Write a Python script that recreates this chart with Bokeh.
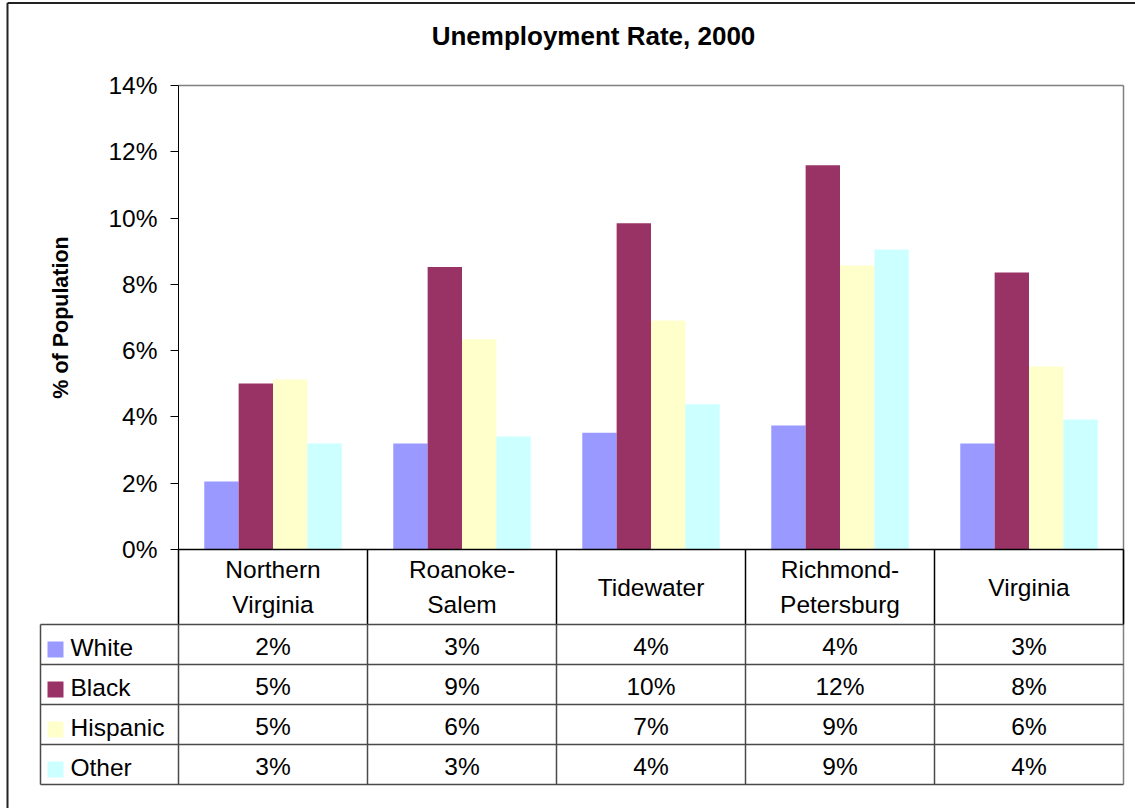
import numpy as np
from bokeh.plotting import figure
from bokeh.models import Range1d, LinearAxis, FixedTicker, NumeralTickFormatter, ColumnDataSource
from bokeh.transform import dodge
from bokeh.core.properties import value
from bokeh.embed import file_html
from bokeh.resources import INLINE

# ---------------- data ----------------
title = "Unemployment Rate, 2000"
y_label = "% of Population"
categories = ["Northern Virginia", "Roanoke-Salem", "Tidewater", "Richmond-Petersburg", "Virginia"]
category_labels = ["Northern\nVirginia", "Roanoke-\nSalem", "Tidewater", "Richmond-\nPetersburg", "Virginia"]
series = ["White", "Black", "Hispanic", "Other"]
white = [0.0205, 0.0320, 0.0352, 0.0374, 0.0320]
black = [0.0501, 0.0852, 0.0984, 0.1159, 0.0836]
hispanic = [0.0513, 0.0634, 0.0691, 0.0857, 0.0552]
other = [0.0320, 0.0341, 0.0438, 0.0905, 0.0392]
y_ticks = [0.0, 0.02, 0.04, 0.06, 0.08, 0.10, 0.12, 0.14]

# ---------------- styles ----------------
colors = ["#9999FF", "#993366", "#FFFFCC", "#CCFFFF"]
FONT = value("Liberation Sans")
FS = "24.5px"
GRAY = "#808080"
DARK = "#4a4a4a"

# ---------------- layout (pixel positions in page) ----------------
W, H = 1135, 808
PL, PR, PT, P0 = 178, 1123, 85, 549     # plot frame left/right/top/zero line
HEAD_BOTTOM = 624                        # bottom of category header row
ROW_H = 40
LEG_LEFT = 40
BORDER_X, BORDER_Y = 7, 2.5
n_cat = len(categories)
CAT_W = (PR - PL) / n_cat
YMAX = y_ticks[-1]


def X(px):
    return (px - PL) / CAT_W


def Y(py):
    return (P0 - py) * YMAX / (P0 - PT)


p = figure(width=W, height=H,
           x_range=Range1d(X(0), X(W)),
           y_range=Range1d(Y(H), Y(0)),
           x_axis_type=None, y_axis_type=None,
           output_backend="svg", toolbar_location=None, min_border=0)
p.outline_line_color = None
p.background_fill_color = "white"
p.border_fill_color = "white"

# ---------------- y axis ----------------
yaxis = LinearAxis(fixed_location=X(PL), bounds=(0, YMAX),
                   ticker=FixedTicker(ticks=y_ticks),
                   formatter=NumeralTickFormatter(format="0%"),
                   axis_label=y_label)
yaxis.axis_line_color = "black"
yaxis.major_tick_line_color = "black"
yaxis.major_tick_out = 8
yaxis.major_tick_in = 0
yaxis.minor_tick_out = 0
yaxis.minor_tick_in = 0
yaxis.major_label_text_font = "Liberation Sans"
yaxis.major_label_text_font_size = FS
yaxis.major_label_text_color = "black"
yaxis.major_label_standoff = 13
yaxis.axis_label_text_font = "Liberation Sans"
yaxis.axis_label_text_font_size = "21.5px"
yaxis.axis_label_text_font_style = "bold"
yaxis.axis_label_text_color = "black"
yaxis.axis_label_standoff = 32
p.add_layout(yaxis, "left")

# ---------------- bars ----------------
src = ColumnDataSource(dict(cx=np.arange(n_cat) + 0.5,
                            White=white, Black=black, Hispanic=hispanic, Other=other))
bw = 1.0 / (len(series) + 1.5)
for j, (name, col) in enumerate(zip(series, colors)):
    off = (j - (len(series) - 1) / 2) * bw
    p.vbar(x=dodge("cx", off), top=name, bottom=0, width=bw, source=src,
           fill_color=col, line_color=None)

# ---------------- frame lines ----------------
TABLE_BOTTOM = HEAD_BOTTOM + ROW_H * len(series)
p.segment(x0=[X(PL)], y0=[Y(PT)], x1=[X(PR)], y1=[Y(PT)], line_color=GRAY, line_width=1.5)
p.segment(x0=[X(PR)], y0=[Y(PT)], x1=[X(PR)], y1=[Y(TABLE_BOTTOM)],
          line_color=GRAY, line_width=1.5)
p.segment(x0=[X(PL)], y0=[0], x1=[X(PR)], y1=[0], line_color="black", line_width=1.5)

# outer chart border (left and top; right/bottom lie outside the picture)
p.segment(x0=[X(BORDER_X)], y0=[Y(BORDER_Y)], x1=[X(BORDER_X)], y1=[Y(H)],
          line_color="#222222", line_width=2)
p.segment(x0=[X(BORDER_X)], y0=[Y(BORDER_Y)], x1=[X(W)], y1=[Y(BORDER_Y)],
          line_color="#222222", line_width=2)

# ---------------- data table ----------------
bounds = np.arange(n_cat + 1)
# header dividers (black)
p.segment(x0=bounds, y0=[Y(P0)] * len(bounds), x1=bounds, y1=[Y(HEAD_BOTTOM)] * len(bounds),
          line_color="black", line_width=1.5)
# body dividers
vx = np.concatenate([[X(LEG_LEFT)], bounds[:-1]])
p.segment(x0=vx, y0=[Y(HEAD_BOTTOM)] * len(vx), x1=vx, y1=[Y(TABLE_BOTTOM)] * len(vx),
          line_color=DARK, line_width=1.5)
hy = [Y(HEAD_BOTTOM + k * ROW_H) for k in range(len(series) + 1)]
p.segment(x0=[X(LEG_LEFT)] * len(hy), y0=hy, x1=[X(PR)] * len(hy), y1=hy,
          line_color=DARK, line_width=1.5)

# category labels in header
p.text(x=np.arange(n_cat) + 0.5, y=[Y((P0 + HEAD_BOTTOM) / 2)] * n_cat, text=category_labels,
       text_font=FONT, text_font_size=FS, text_align="center", text_baseline="middle",
       text_line_height=1.27, text_color="black")

values = [white, black, hispanic, other]
for k, (name, col, vals) in enumerate(zip(series, colors, values)):
    top = HEAD_BOTTOM + k * ROW_H
    p.scatter(x=[X(55)], y=[Y(top + 25)], marker="square", size=16,
              fill_color=col, line_color=None)
    p.text(x=[X(70)], y=[Y(top + 23)], text=[name], text_font=FONT, text_font_size=FS,
           text_align="left", text_baseline="middle", text_color="black")
    labels = [f"{round(v * 100)}%" for v in vals]
    p.text(x=np.arange(n_cat) + 0.5, y=[Y(top + 22)] * n_cat, text=labels,
           text_font=FONT, text_font_size=FS, text_align="center",
           text_baseline="middle", text_color="black")

# ---------------- title ----------------
p.text(x=[X(593)], y=[Y(35)], text=[title], text_font=FONT, text_font_size="26px",
       text_font_style="bold", text_align="center", text_baseline="middle", text_color="black")

open("out.html", "w").write(file_html(p, INLINE))
